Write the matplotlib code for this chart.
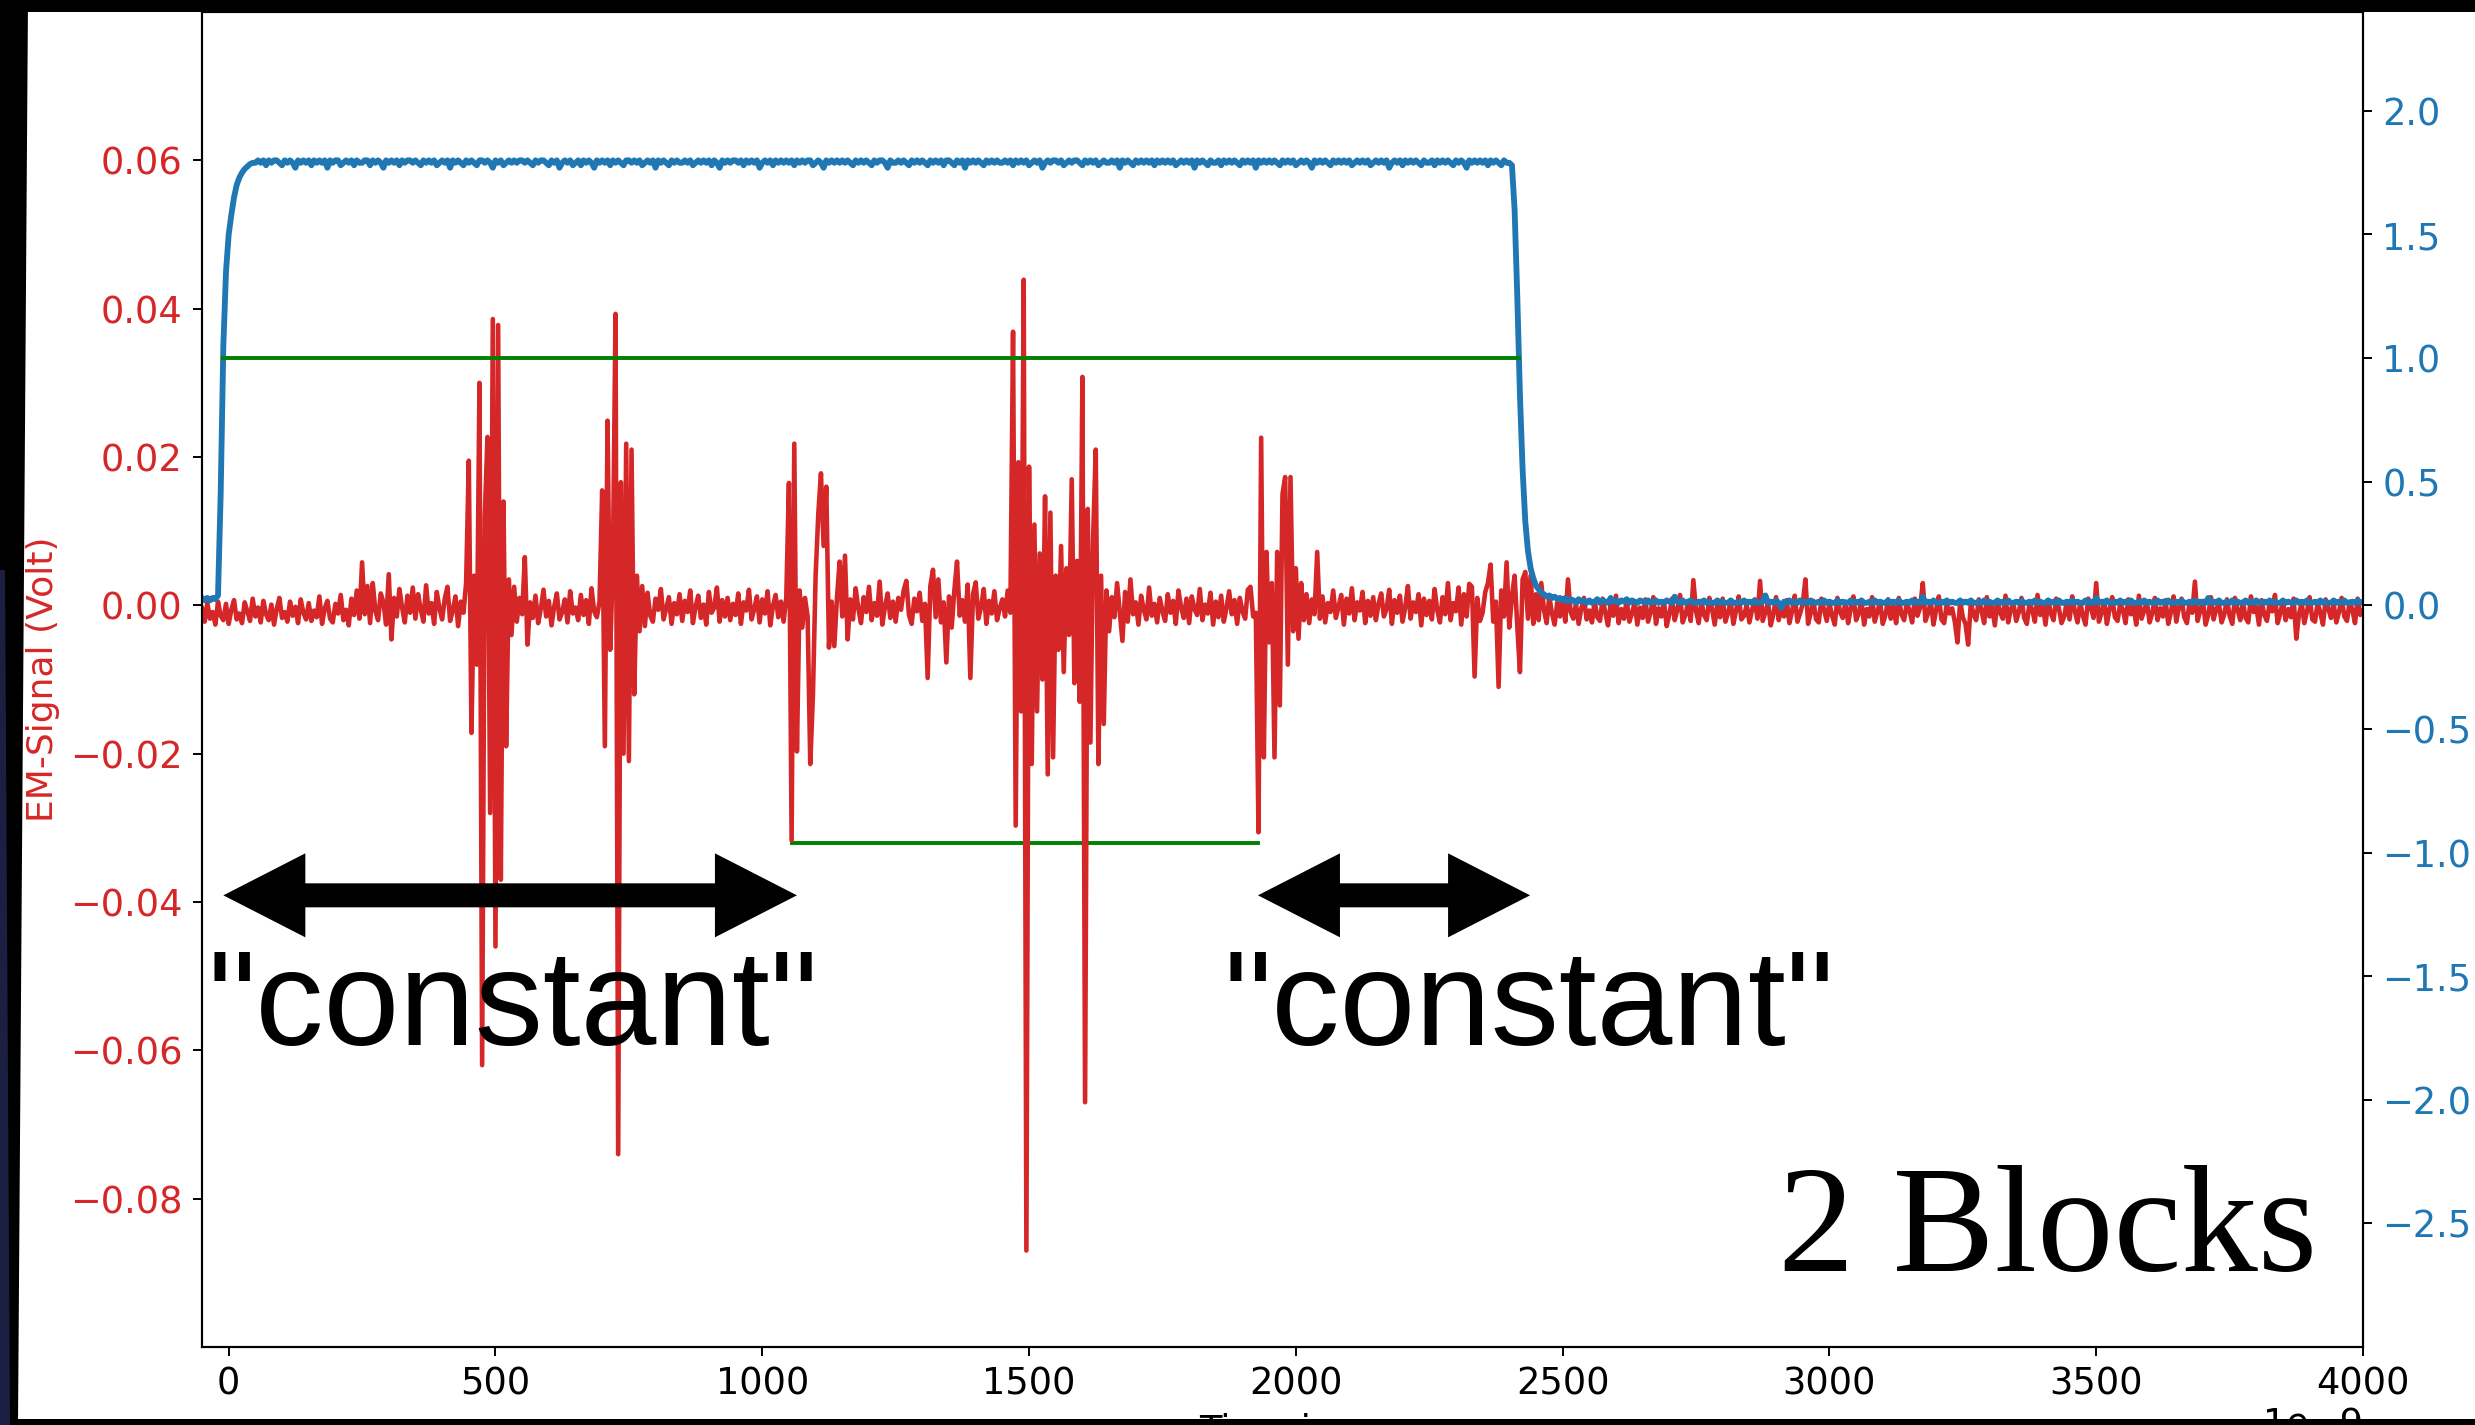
import numpy as np
import matplotlib

matplotlib.use("Agg")
import matplotlib.pyplot as plt
from matplotlib.patches import Polygon, Rectangle
from matplotlib.ticker import ScalarFormatter
from matplotlib.transforms import IdentityTransform

W_PX, H_PX, DPI = 2475, 1425, 100

COLOR_EM = "#d62728"
COLOR_TRIGGER = "#1f77b4"
COLOR_BLOCK = "#008000"

# common sample grid, ns
T_START_NS = -50
T_STEP_NS = 5

# EM probe signal in mV, one row per 100 ns
em_mv_a = [
    -0.4, -2.2, 0.3, -1.8, -0.9, -2.6, 0.5, -1.4, -2.0, 0.2, -2.5, -0.6, 0.7, -1.9, -1.1, -2.4, 0.4, -0.8, -2.1, 0.9,
    -1.5, -0.3, -2.3, 0.6, -1.2, -2.0, 0.1, -2.6, -0.5, 1.0, -1.7, -0.9, -2.2, 0.5, -1.4, -0.2, -2.4, 0.8, -1.0, -1.9,
    0.3, -2.1, -0.7, -1.6, 1.2, -2.5, -0.4, 0.6, -1.8, -2.3, 0.2, -1.1, 1.4, -2.0, -0.6, -2.7, 0.9, -1.3, 2.0, -1.8,
    5.8, -1.2, 2.6, -2.4, 3.0, -0.8, -2.0, 1.6, 0.4, -2.6, 4.2, -4.6, 1.0, -1.5, 2.2, -0.3, -2.3, 1.3, -1.0, 2.4,
    -1.8, 1.5, -0.6, -2.2, 2.7, -1.1, 0.3, -2.5, 1.8, -0.4, -1.9, 0.9, 2.5, -2.1, -0.7, 1.2, -2.8, 0.5, -1.0, 3.0,
    19.5, -17.2, 4.0, -8.0, 30.0, -62.0, 12.0, 22.7, -28.0, 38.6, -46.0, 37.8, -37.0, 14.0, -19.0, 3.5, -4.0, 2.5, -2.2, 1.0,
    -1.2, 6.5, -5.3, 0.4, -1.7, 1.3, -2.4, -0.5, 2.1, -1.5, 0.6, -2.7, -0.2, 1.6, -1.9, -0.9, 0.8, -2.3, 1.9, -1.1,
    -0.3, -2.0, 1.4, -1.3, 0.7, -2.5, 2.3, -0.8, -1.6, 0.5, 15.5, -19.0, 24.9, -6.0, 5.0, 39.3, -74.0, 16.6, -20.0, 21.8,
    -21.0, 21.0, -12.0, 4.0, -3.5, 2.6, -2.8, 1.7, -1.4, -2.2, 0.9, -0.6, 2.2, -1.9, -0.4, 1.1, -2.5, 0.3, -1.2, 1.5,
    -2.1, 0.6, -0.9, 2.0, -2.4, -0.2, 1.3, -1.7, 0.1, -2.6, 1.8, -1.0, -0.3, 2.4, -2.2, 0.7, -1.5, 1.0, -2.0, 0.2,
]
em_mv_b = [
    -1.3, 1.6, -2.5, 0.4, -0.7, 2.1, -1.9, -0.5, 1.2, -2.3, 0.8, -1.1, 1.9, -2.7, -0.1, 1.4, -1.6, 0.5, -2.2, 1.0,
    16.5, -31.7, 21.8, -19.7, 2.0, -3.0, 1.0, -1.5, -21.4, -12.0, 4.0, 12.3, 17.8, 8.0, 16.0, -5.7, 0.5, -5.5, 1.0, 5.9,
    -1.5, 6.7, -4.6, 0.8, -1.9, 2.3, -0.4, -2.4, 1.1, -0.9, 2.5, -2.0, 0.3, -1.4, 3.2, -2.6, -0.2, 1.6, -1.7, 0.5,
    -2.2, 1.0, -0.6, 2.0, 3.3, -1.3, -2.5, 0.9, -0.8, 1.7, -2.1, 0.2, -9.8, 2.6, 4.8, -1.6, 3.5, -2.3, 0.4, -7.7,
    1.2, -3.0, 2.0, 5.9, -1.4, 0.7, -2.2, 2.8, -9.8, 1.5, 3.1, -1.8, -0.3, 2.2, -2.5, 0.6, -1.1, 1.9, -2.0, -0.4,
    0.8, -1.5, 2.0, -1.0, 36.9, -29.7, 19.3, -14.3, 43.9, -87.0, 18.7, -21.4, 10.9, -14.3, 7.0, -10.0, 14.7, -22.8, 12.5, -20.5,
    4.0, -6.0, 8.0, -9.0, 5.0, -4.0, 17.0, -10.5, 6.0, -13.0, 30.8, -67.0, 13.0, -18.5, 9.0, 21.0, -21.4, 4.0, -16.0, 2.0,
    -3.5, 1.1, -1.6, 3.0, -0.9, -4.8, 1.8, -2.2, 3.5, -1.2, 0.4, -2.6, 1.3, -0.6, -1.9, 2.4, -1.4, 0.2, -2.3, 1.0,
    -0.8, -2.1, 1.5, -1.0, 0.6, -2.5, 2.0, -0.3, -1.7, 0.9, -2.4, 1.2, -0.5, -1.3, 2.2, -2.0, 0.1, -1.1, 1.7, -2.6,
    0.5, -1.6, 1.3, -2.2, -0.4, 1.9, -1.2, 0.7, -2.5, 1.0, -0.8, -1.8, 2.1, 2.5, -1.5, -1.0, -30.6, 22.6, -20.5, 7.2,
]
em_mv_c = [
    -5.0, 3.0, -20.5, 7.2, -13.5, 15.0, 17.3, -8.0, 17.3, -3.5, 5.0, -4.5, 3.0, -2.0, 1.5, -2.4, 0.8, -1.2, 7.2, -1.8,
    1.2, -2.3, 0.3, -0.9, 2.0, -1.7, -0.2, 1.4, -2.6, 0.9, -1.1, 2.3, -2.0, 0.4, -0.7, 1.8, -2.4, 0.6, -1.4, 1.1,
    -2.0, 0.2, 1.6, -1.5, -0.5, 2.1, -2.5, 0.7, -1.0, 1.3, -2.2, -0.3, 2.6, -1.8, 0.4, -0.9, 1.5, -2.7, 0.9, -1.3,
    0.6, -1.9, 2.2, -0.6, -2.3, 1.1, -1.2, 3.0, -2.0, 0.3, -0.8, 2.4, -2.6, 1.5, -1.5, 2.9, 2.5, -9.6, 1.0, -2.1,
    -1.0, 1.8, 3.0, 5.5, -2.2, 0.5, -11.0, 2.0, -1.5, 5.8, -3.0, 1.2, 4.0, -2.8, -9.0, 3.5, 4.5, -1.8, 4.0, -2.5,
    1.5, -2.0, 3.0, -0.6, -2.4, 1.2, -1.1, -2.6, 0.4, -1.5, 0.8, -2.2, 3.5, -0.9, -1.8, 0.2, -2.5, -0.4, 1.0, -1.9,
    -0.7, -2.3, 0.6, -1.6, -2.1, 0.9, -1.0, -2.7, 0.2, -1.4, 1.3, -2.4, -0.5, -1.8, 0.7, -2.2, -1.1, 0.4, -2.6, -0.3,
    -1.7, 0.8, -2.2, -0.9, 1.1, -2.5, -0.4, -1.5, 0.5, -2.8, -1.2, 0.9, -2.0, -0.6, 1.4, -2.3, -1.3, 0.3, -2.1, 3.4,
    -0.8, -2.4, 0.6, -1.3, -2.0, 1.0, -0.5, -2.6, 0.2, -1.6, 0.9, -2.2, -1.0, 0.5, -2.5, -0.7, 1.2, -1.9, -1.4, 0.1,
    -2.3, -0.6, 0.8, -1.8, 3.3, -2.1, -0.9, 0.4, -2.7, -1.2, 1.1, -2.0, -0.3, -1.5, 0.7, -2.4, -0.8, 1.3, -2.2, -1.1,
]
em_mv_d = [
    0.2, 3.5, -2.5, -1.0, 0.6, -1.9, -2.3, 0.9, -0.6, -2.1, 0.3, -1.4, -2.6, 1.0, -0.9, -1.7, 0.5, -2.4, -0.4, 1.2,
    -2.0, -1.1, 0.7, -2.6, -0.5, -1.5, 1.1, -2.2, -0.8, 0.4, -2.5, -1.3, 0.8, -1.8, -0.2, -2.4, 1.0, -1.2, -2.0, 0.3,
    -0.7, -2.3, 0.9, -1.4, -0.3, 3.0, -2.1, -1.0, 0.5, -2.6, -0.6, 1.2, -1.9, -2.4, 0.2, -1.1, -0.4, -2.2, -5.0, 0.6,
    -1.6, -2.5, -5.3, 0.4, -1.2, -2.0, 0.8, -0.7, -2.4, 1.1, -1.5, -0.2, -2.7, 0.6, -1.0, -1.8, 1.3, -2.3, -0.5, 0.2,
    -2.1, -0.9, 1.0, -1.7, -2.5, 0.3, -0.6, -2.2, 1.4, -1.3, -0.1, -2.6, 0.7, -1.1, -2.0, 0.9, -0.4, -2.4, -1.5, 0.5,
    -1.9, 1.2, -0.8, -2.3, 0.4, -1.4, -2.6, 0.9, -0.3, -1.7, 3.0, -2.2, -1.0, 0.6, -2.5, -0.5, 1.1, -1.6, -2.1, 0.2,
    -0.6, -2.4, 0.8, -1.2, -0.2, -2.6, 1.3, -1.8, -0.7, 0.5, -2.3, -1.1, 1.0, -2.0, -0.4, -1.5, 0.7, -2.5, -0.9, 1.2,
    -2.2, -0.3, 0.9, -1.6, -2.4, 0.4, -1.0, 3.2, -2.1, -0.7, 0.6, -2.6, -1.3, 1.1, -1.9, -0.5, 0.2, -2.3, -1.2, 0.8,
    -1.4, -2.5, 1.0, -0.6, -2.0, 0.5, -1.7, -2.3, 1.2, -0.9, -0.2, -2.6, 0.7, -1.3, -2.1, 0.3, -0.8, 1.4, -2.4, -1.1,
    0.6, -2.0, -0.5, -1.6, 0.9, -4.5, -1.2, 0.3, -2.4, -0.8, 1.1, -1.9, -2.2, 0.4, -1.0, -2.6, 0.8, -0.4, -1.7, 0.2,
    -2.3, -0.9, 1.0, -1.5, -2.1, 0.5, -0.6, -2.4, 0.9, -1.3, -0.7,
]

# trigger / supply line, right axis, same grid
trigger_a = [
    0.03, 0.02, 0.03, 0.02, 0.03, 0.025, 0.04, 0.45, 1.05, 1.35, 1.50, 1.58, 1.65, 1.70, 1.73, 1.75, 1.765, 1.775, 1.785, 1.79,
    1.79, 1.80, 1.79, 1.80, 1.78, 1.80, 1.79, 1.80, 1.80, 1.79, 1.78, 1.80, 1.79, 1.80, 1.79, 1.77, 1.80, 1.79, 1.80, 1.79,
    1.80, 1.78, 1.80, 1.79, 1.80, 1.79, 1.80, 1.77, 1.80, 1.79, 1.80, 1.80, 1.78, 1.79, 1.80, 1.79, 1.80, 1.78, 1.80, 1.79,
    1.79, 1.80, 1.80, 1.78, 1.80, 1.79, 1.80, 1.79, 1.77, 1.80, 1.79, 1.80, 1.79, 1.80, 1.78, 1.80, 1.79, 1.80, 1.80, 1.79,
    1.80, 1.79, 1.78, 1.80, 1.79, 1.80, 1.79, 1.80, 1.78, 1.79, 1.80, 1.79, 1.80, 1.77, 1.80, 1.79, 1.80, 1.79, 1.78, 1.80,
    1.79, 1.80, 1.79, 1.78, 1.80, 1.80, 1.79, 1.80, 1.79, 1.77, 1.80, 1.79, 1.80, 1.78, 1.79, 1.80, 1.79, 1.80, 1.79, 1.80,
    1.80, 1.79, 1.80, 1.79, 1.78, 1.80, 1.79, 1.80, 1.80, 1.79, 1.78, 1.80, 1.79, 1.80, 1.77, 1.79, 1.80, 1.79, 1.80, 1.78,
    1.79, 1.80, 1.78, 1.80, 1.79, 1.80, 1.79, 1.77, 1.80, 1.79, 1.80, 1.79, 1.80, 1.78, 1.80, 1.79, 1.80, 1.79, 1.78, 1.80,
    1.80, 1.79, 1.80, 1.79, 1.80, 1.78, 1.79, 1.80, 1.79, 1.80, 1.77, 1.80, 1.79, 1.80, 1.79, 1.78, 1.80, 1.79, 1.80, 1.79,
    1.79, 1.80, 1.79, 1.80, 1.78, 1.79, 1.80, 1.79, 1.80, 1.79, 1.80, 1.78, 1.80, 1.79, 1.77, 1.80, 1.79, 1.80, 1.79, 1.80,
]
trigger_b = [
    1.80, 1.79, 1.80, 1.78, 1.80, 1.79, 1.80, 1.79, 1.80, 1.77, 1.79, 1.80, 1.79, 1.80, 1.78, 1.80, 1.79, 1.80, 1.79, 1.80,
    1.79, 1.80, 1.78, 1.80, 1.79, 1.80, 1.79, 1.80, 1.80, 1.78, 1.79, 1.80, 1.79, 1.77, 1.80, 1.79, 1.80, 1.79, 1.80, 1.79,
    1.80, 1.79, 1.80, 1.79, 1.78, 1.80, 1.79, 1.80, 1.79, 1.80, 1.79, 1.78, 1.80, 1.79, 1.80, 1.80, 1.79, 1.77, 1.80, 1.79,
    1.79, 1.80, 1.79, 1.80, 1.79, 1.78, 1.80, 1.79, 1.80, 1.79, 1.80, 1.79, 1.78, 1.80, 1.79, 1.80, 1.79, 1.80, 1.78, 1.80,
    1.80, 1.79, 1.78, 1.80, 1.79, 1.80, 1.77, 1.80, 1.79, 1.80, 1.79, 1.80, 1.79, 1.78, 1.80, 1.79, 1.80, 1.79, 1.80, 1.79,
    1.79, 1.80, 1.79, 1.80, 1.78, 1.80, 1.79, 1.80, 1.79, 1.80, 1.78, 1.79, 1.80, 1.79, 1.80, 1.77, 1.79, 1.80, 1.79, 1.80,
    1.80, 1.79, 1.80, 1.78, 1.79, 1.80, 1.79, 1.80, 1.80, 1.79, 1.78, 1.80, 1.79, 1.80, 1.79, 1.80, 1.78, 1.79, 1.80, 1.79,
    1.79, 1.80, 1.79, 1.80, 1.77, 1.80, 1.79, 1.80, 1.79, 1.78, 1.80, 1.79, 1.80, 1.79, 1.80, 1.79, 1.80, 1.78, 1.80, 1.79,
    1.80, 1.79, 1.80, 1.79, 1.80, 1.78, 1.79, 1.80, 1.79, 1.80, 1.79, 1.80, 1.77, 1.80, 1.79, 1.80, 1.79, 1.78, 1.80, 1.79,
    1.79, 1.80, 1.78, 1.80, 1.79, 1.80, 1.79, 1.80, 1.79, 1.78, 1.80, 1.79, 1.80, 1.79, 1.80, 1.77, 1.80, 1.79, 1.80, 1.79,
]
trigger_c = [
    1.80, 1.79, 1.80, 1.79, 1.78, 1.80, 1.79, 1.80, 1.79, 1.80, 1.78, 1.79, 1.80, 1.79, 1.80, 1.79, 1.77, 1.80, 1.79, 1.80,
    1.79, 1.80, 1.79, 1.78, 1.80, 1.79, 1.80, 1.79, 1.80, 1.79, 1.80, 1.78, 1.79, 1.80, 1.79, 1.80, 1.79, 1.80, 1.78, 1.79,
    1.80, 1.79, 1.80, 1.79, 1.80, 1.77, 1.79, 1.80, 1.79, 1.80, 1.78, 1.80, 1.79, 1.80, 1.79, 1.80, 1.79, 1.78, 1.80, 1.79,
    1.79, 1.80, 1.78, 1.80, 1.79, 1.80, 1.79, 1.80, 1.79, 1.78, 1.80, 1.79, 1.80, 1.79, 1.77, 1.80, 1.79, 1.80, 1.79, 1.80,
    1.79, 1.80, 1.78, 1.80, 1.79, 1.80, 1.79, 1.78, 1.80, 1.79, 1.79, 1.78, 1.60, 1.25, 0.85, 0.55, 0.34, 0.22, 0.15, 0.11,
    0.08, 0.065, 0.05, 0.045, 0.035, 0.04, 0.03, 0.035, 0.025, 0.03, 0.02, 0.03, 0.015, 0.025, 0.02, 0.01, 0.025, 0.015, 0.02, 0.01,
    0.02, 0.01, 0.015, 0.025, 0.01, 0.02, 0.015, 0.01, 0.03, 0.015, 0.02, 0.01, 0.02, 0.015, 0.025, 0.01, 0.02, 0.015, 0.01, 0.02,
    0.015, 0.01, 0.02, 0.01, 0.015, 0.02, 0.01, 0.015, 0.01, 0.02, 0.015, 0.01, 0.035, 0.015, 0.01, 0.02, 0.01, 0.015, 0.02, 0.01,
    0.01, 0.015, 0.01, 0.02, 0.01, 0.015, 0.01, 0.01, 0.02, 0.01, 0.015, 0.01, 0.01, 0.02, 0.01, 0.01, 0.015, 0.01, 0.02, 0.01,
    0.015, 0.01, 0.02, 0.01, 0.01, 0.015, 0.04, 0.01, 0.015, 0.01, 0.02, 0.01, -0.01, 0.015, 0.01, 0.02, 0.01, 0.015, 0.01, 0.02,
]
trigger_d = [
    0.01, 0.015, 0.01, 0.02, 0.01, 0.01, 0.015, 0.01, 0.02, 0.01, 0.015, 0.01, 0.01, 0.02, 0.01, 0.015, 0.01, 0.01, 0.02, 0.01,
    0.015, 0.01, 0.02, 0.01, 0.01, 0.015, 0.01, 0.02, 0.01, 0.015, 0.01, 0.01, 0.02, 0.01, 0.015, 0.01, 0.02, 0.01, 0.01, 0.015,
    0.01, 0.02, 0.01, 0.015, 0.01, 0.035, 0.01, 0.015, 0.01, 0.02, 0.01, 0.01, 0.015, 0.01, 0.02, 0.01, 0.015, 0.01, 0.01, 0.02,
    0.01, 0.015, 0.01, 0.02, 0.01, 0.01, 0.015, 0.01, 0.02, 0.01, 0.015, 0.01, 0.01, 0.02, 0.01, 0.015, 0.01, 0.02, 0.01, 0.01,
    0.015, 0.01, 0.02, 0.01, 0.01, 0.015, 0.01, 0.02, 0.01, 0.015, 0.01, 0.01, 0.02, 0.01, 0.015, 0.01, 0.02, 0.01, 0.01, 0.015,
    0.01, 0.02, 0.01, 0.015, 0.01, 0.01, 0.02, 0.01, 0.015, 0.01, 0.03, 0.01, 0.015, 0.01, 0.02, 0.01, 0.01, 0.015, 0.01, 0.02,
    0.01, 0.015, 0.01, 0.02, 0.01, 0.01, 0.015, 0.01, 0.02, 0.01, 0.015, 0.01, 0.01, 0.02, 0.01, 0.015, 0.01, 0.02, 0.01, 0.01,
    0.015, 0.01, 0.02, 0.01, 0.01, 0.015, 0.01, 0.02, 0.01, 0.015, 0.01, 0.01, 0.03, 0.01, 0.015, 0.01, 0.02, 0.01, 0.01, 0.015,
    0.01, 0.02, 0.01, 0.015, 0.01, 0.01, 0.02, 0.01, 0.015, 0.01, 0.02, 0.01, 0.01, 0.015, 0.01, 0.02, 0.01, 0.015, 0.01, 0.01,
    0.02, 0.01, 0.015, 0.01, 0.01, 0.02, 0.01, 0.015, 0.01, 0.02, 0.01, 0.01, 0.015, 0.01, 0.02, 0.01, 0.015, 0.01, 0.01, 0.02,
    0.01, 0.015, 0.01, 0.02, 0.01, 0.01, 0.015, 0.01, 0.02, 0.01, 0.015,
]

# detected blocks: trigger high window (right axis) and EM activity window (left axis)
trigger_block_ns = [-11, 2418]
trigger_block_level = 1.0
em_block_ns = [1055, 1930]
em_block_level = -0.032

# "constant" EM stretches, ns
constant_spans_ns = [(-10, 1065), (1929, 2439)]

em_mv = np.array(em_mv_a + em_mv_b + em_mv_c + em_mv_d)
trigger_v = np.array(trigger_a + trigger_b + trigger_c + trigger_d)
time_ns = T_START_NS + T_STEP_NS * np.arange(len(em_mv))
assert len(trigger_v) == len(em_mv)

fig = plt.figure(figsize=(W_PX / DPI, H_PX / DPI), dpi=DPI)
fig.patch.set_facecolor("white")

# axes box in pixels: left 202, right 2363, top 12, bottom 1347
ax = fig.add_axes([202 / W_PX, 78 / H_PX, 2161 / W_PX, 1335 / H_PX])

ax.plot(np.array(em_block_ns) * 1e-9, [em_block_level] * 2, color=COLOR_BLOCK, lw=2.8, zorder=1.5)
ax.plot(time_ns * 1e-9, em_mv * 1e-3, color=COLOR_EM, lw=3.3, zorder=2)

ax2 = ax.twinx()
ax2.plot(time_ns * 1e-9, trigger_v, color=COLOR_TRIGGER, lw=4.2)
ax2.plot(np.array(trigger_block_ns) * 1e-9, [trigger_block_level] * 2, color=COLOR_BLOCK, lw=2.8)

ax.set_xlim(-50e-9, 4000e-9)
ax.set_ylim(-0.1, 0.08)
ax2.set_ylim(-3.0, 2.4)
ax.set_xticks(np.arange(0, 4001, 500) * 1e-9)
ax.set_yticks([-0.08, -0.06, -0.04, -0.02, 0.0, 0.02, 0.04, 0.06])
ax2.set_yticks([-2.5, -2.0, -1.5, -1.0, -0.5, 0.0, 0.5, 1.0, 1.5, 2.0])

fmt = ScalarFormatter()
fmt.set_powerlimits((-9, -9))
ax.xaxis.set_major_formatter(fmt)

for a in (ax, ax2):
    a.tick_params(length=6.5, width=1.4, labelsize=26.5, pad=7.5)
    for sp in a.spines.values():
        sp.set_linewidth(1.5)
ax.tick_params(axis="y", labelcolor=COLOR_EM)
ax2.tick_params(axis="y", labelcolor=COLOR_TRIGGER)
ax.tick_params(axis="x", pad=6.5)
ax.xaxis.get_offset_text().set_fontsize(26.5)

ax.set_ylabel("EM-Signal (Volt)", color=COLOR_EM, fontsize=26)
ax.yaxis.set_label_coords(-0.0655, 0.5)
ax.set_xlabel("Time in s", fontsize=26.5)
ax.xaxis.set_label_coords(0.5, -0.0487)


def double_arrow(axis, t0_ns, t1_ns, level, shaft=24, head_w=84, head_l=82):
    (x0, y), (x1, _) = axis.transData.transform([(t0_ns * 1e-9, level), (t1_ns * 1e-9, level)])
    hs, hw = shaft / 2, head_w / 2
    pts = [
        (x0, y), (x0 + head_l, y + hw), (x0 + head_l, y + hs), (x1 - head_l, y + hs),
        (x1 - head_l, y + hw), (x1, y), (x1 - head_l, y - hw), (x1 - head_l, y - hs),
        (x0 + head_l, y - hs), (x0 + head_l, y - hw),
    ]
    axis.add_artist(Polygon(pts, closed=True, facecolor="black", edgecolor="none",
                            transform=IdentityTransform(), zorder=5))


for t0, t1 in constant_spans_ns:
    double_arrow(ax, t0, t1, -0.0391)

ax.text(-39e-9, -0.0593, '"constant"', fontsize=98, family="Liberation Sans",
        ha="left", va="baseline", zorder=6)
ax.text(1864e-9, -0.0593, '"constant"', fontsize=98, family="Liberation Sans",
        ha="left", va="baseline", zorder=6)
ax.text(2904e-9, -0.0898, "2 Blocks", fontsize=110, family="Liberation Serif",
        ha="left", va="baseline", zorder=6)

# slide frame around the screenshot
fig.add_artist(Rectangle((0, 1 - 12 / H_PX), 1, 12 / H_PX, transform=fig.transFigure,
                         facecolor="black", edgecolor="none", zorder=20))
fig.add_artist(Rectangle((0, 0), 1, 6 / H_PX, transform=fig.transFigure,
                         facecolor="black", edgecolor="none", zorder=20))
fig.add_artist(Polygon([(0, 0), (18 / W_PX, 0), (28 / W_PX, 1), (0, 1)], closed=True,
                       transform=fig.transFigure, facecolor="black", edgecolor="none", zorder=20))
fig.add_artist(Polygon([(0, 0), (10 / W_PX, 0), (5 / W_PX, 0.6), (0, 0.6)], closed=True,
                       transform=fig.transFigure, facecolor="#1b2042", edgecolor="none", zorder=21))

fig.savefig("out.png", dpi=DPI, facecolor="white")
